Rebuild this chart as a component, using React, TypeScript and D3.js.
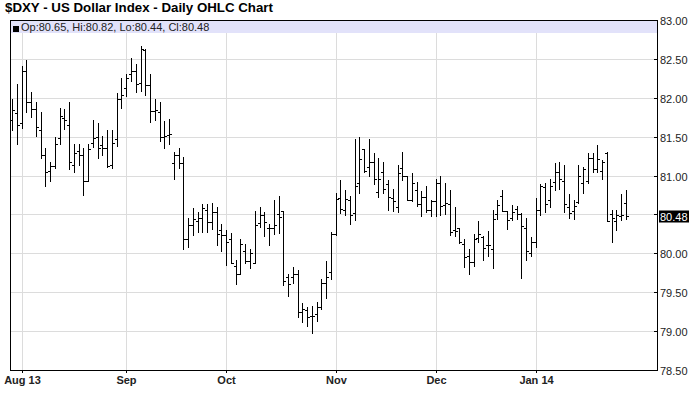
import { useEffect, useRef } from "react";
import * as d3 from "d3";

// daily OHLC, Jul 30 2013 .. Jan 29 2014 (weekdays, Dec 25 / Jan 1 closed)
const opens = [
  81.72, 81.81, 81.68, 82.35, 81.95, 81.86, 81.59, 81.27, 81.06, 81.12,
  81.48, 81.74, 81.65, 81.14, 81.32, 81.27, 80.93, 81.42, 81.5, 81.39,
  81.35, 81.13, 81.47, 81.99, 82.12, 82.31, 82.35, 82.19, 82.62, 82.16,
  81.83, 81.82, 81.49, 81.52, 81.16, 81.27, 81.16, 80.19, 80.36, 80.41,
  80.46, 80.56, 80.4, 80.53, 80.3, 80.24, 80.18, 79.84, 79.73, 80.03,
  79.9, 79.87, 80.39, 80.49, 80.32, 80.32, 80.5, 80.54, 79.7, 79.7,
  79.73, 79.25, 79.27, 79.19, 79.22, 79.31, 79.62, 79.76, 80.25, 80.71,
  80.56, 80.68, 80.52, 80.9, 81.34, 81.11, 81.17, 80.79, 81.05, 80.89,
  80.71, 80.59, 81.1, 81.0, 80.68, 80.81, 80.64, 80.73, 80.56, 80.67,
  80.9, 80.62, 80.64, 80.3, 80.32, 80.12, 79.97, 79.89, 80.2, 80.21,
  80.11, 80.06, 80.51, 80.74, 80.55, 80.45, 80.57, 80.51, 80.33, 80.01,
  80.15, 80.56, 80.85, 80.69, 80.92, 81.05, 80.93, 80.6, 80.54, 80.66,
  80.91, 80.93, 81.22, 81.09, 81.06, 81.29, 80.51, 80.41, 80.48, 80.65,
];
const highs = [
  81.98, 82.18, 82.41, 82.49, 82.08, 81.95, 81.82, 81.36, 81.18, 81.5,
  81.87, 81.86, 81.95, 81.41, 81.41, 81.35, 81.41, 81.72, 81.68, 81.51,
  81.59, 81.59, 82.06, 82.26, 82.31, 82.51, 82.43, 82.67, 82.63, 82.31,
  81.98, 81.94, 81.7, 81.73, 81.3, 81.36, 81.24, 80.46, 80.58, 80.53,
  80.63, 80.63, 80.65, 80.6, 80.38, 80.3, 80.26, 79.91, 80.18, 80.12,
  80.06, 80.55, 80.59, 80.53, 80.38, 80.68, 80.74, 80.55, 79.74, 79.82,
  79.79, 79.36, 79.31, 79.32, 79.38, 79.67, 79.9, 80.27, 80.77, 80.94,
  80.81, 80.74, 81.47, 81.49, 81.34, 81.47, 81.29, 81.22, 81.17, 80.94,
  80.83, 81.13, 81.3, 81.0, 81.03, 80.92, 80.8, 80.87, 80.69, 80.96,
  81.0, 80.91, 80.82, 80.6, 80.33, 80.18, 80.06, 80.25, 80.42, 80.22,
  80.29, 80.56, 80.68, 80.82, 80.55, 80.62, 80.61, 80.52, 80.46, 80.21,
  80.71, 80.89, 80.91, 80.95, 81.16, 81.18, 81.14, 80.76, 80.69, 81.13,
  81.11, 81.29, 81.29, 81.39, 81.2, 81.3, 80.56, 80.56, 80.76, 80.82,
];
const lows = [
  81.59, 81.41, 81.61, 81.82, 81.75, 81.51, 81.23, 80.87, 80.93, 81.1,
  81.41, 81.6, 81.08, 81.05, 81.13, 80.75, 80.93, 81.37, 81.23, 81.26,
  81.11, 81.1, 81.38, 81.87, 82.02, 82.21, 82.07, 82.09, 82.04, 81.69,
  81.71, 81.44, 81.35, 81.41, 80.95, 81.1, 80.06, 80.08, 80.23, 80.28,
  80.28, 80.28, 80.31, 80.11, 80.03, 79.85, 79.88, 79.6, 79.73, 79.88,
  79.81, 79.87, 80.34, 80.22, 80.11, 80.25, 80.26, 79.59, 79.45, 79.62,
  79.18, 79.12, 79.07, 78.98, 79.13, 79.28, 79.43, 79.67, 80.24, 80.52,
  80.49, 80.38, 80.43, 80.78, 81.05, 81.0, 80.89, 80.72, 80.77, 80.56,
  80.54, 80.53, 80.94, 80.68, 80.67, 80.61, 80.48, 80.53, 80.48, 80.48,
  80.49, 80.5, 80.23, 80.22, 80.13, 79.83, 79.74, 79.84, 80.14, 79.91,
  79.97, 79.81, 80.44, 80.54, 80.31, 80.43, 80.44, 79.68, 79.91, 79.96,
  80.08, 80.49, 80.53, 80.59, 80.82, 80.83, 80.53, 80.46, 80.44, 80.65,
  80.78, 80.91, 81.04, 81.05, 80.96, 80.41, 80.14, 80.3, 80.43, 80.44,
];
const closes = [
  81.84, 81.65, 82.35, 81.94, 81.86, 81.63, 81.27, 81.04, 81.12, 81.41,
  81.76, 81.71, 81.18, 81.29, 81.26, 80.93, 81.34, 81.48, 81.36, 81.35,
  81.12, 81.42, 81.99, 82.04, 82.25, 82.35, 82.18, 82.63, 82.16, 81.83,
  81.84, 81.5, 81.51, 81.53, 81.27, 81.16, 80.19, 80.37, 80.44, 80.46,
  80.58, 80.4, 80.53, 80.25, 80.23, 80.15, 79.88, 79.73, 80.12, 79.9,
  80.0, 80.36, 80.49, 80.4, 80.32, 80.36, 80.47, 79.65, 79.6, 79.73,
  79.24, 79.29, 79.18, 79.2, 79.31, 79.62, 79.7, 80.25, 80.7, 80.57,
  80.7, 80.49, 80.86, 81.21, 81.06, 81.17, 80.95, 80.96, 80.83, 80.73,
  80.67, 81.03, 81.0, 80.68, 80.91, 80.64, 80.73, 80.56, 80.67, 80.91,
  80.61, 80.65, 80.28, 80.29, 80.14, 79.95, 79.89, 80.18, 80.25, 80.07,
  80.11, 80.44, 80.62, 80.54, 80.43, 80.53, 80.5, 80.35, 80.03, 80.15,
  80.56, 80.86, 80.64, 80.86, 81.05, 80.95, 80.64, 80.52, 80.61, 80.99,
  81.08, 81.22, 81.09, 81.21, 81.17, 80.41, 80.46, 80.49, 80.49, 80.48,
];

const yTicks = [78.5, 79.0, 79.5, 80.0, 80.5, 81.0, 81.5, 82.0, 82.5, 83.0];
const monthLabels = ["Aug 13", "Sep", "Oct", "Nov", "Dec", "Jan 14"];
const closedDays = ["2013-12-25", "2014-01-01"];

const fmt = d3.timeFormat("%Y-%m-%d");
const dates = d3.timeDay
  .range(new Date(2013, 6, 30), new Date(2014, 0, 30))
  .filter((d) => d.getDay() !== 0 && d.getDay() !== 6 && !closedDays.includes(fmt(d)));

export default function App() {
  const ref = useRef<SVGSVGElement>(null);

  useEffect(() => {
    if (!ref.current) return;
    const svg = d3.select(ref.current);
    svg.selectAll("*").remove();

    const width = 700;
    const height = 411;
    const left = 10, right = 657, top = 20, bottom = 370;
    const font = "'Liberation Sans', Arial, sans-serif";

    const n = opens.length;
    const last = n - 1;
    const x = d3.scaleLinear().domain([0, n - 1]).range([left + 2, left + 616]);
    const y = d3.scaleLinear().domain([78.5, 83]).range([bottom, top]);
    const px = (i: number) => Math.round(x(i)) + 0.5;
    const py = (v: number) => Math.round(y(v)) + 0.5;

    svg.append("rect").attr("width", width).attr("height", height).attr("fill", "#fff");

    // title
    svg
      .append("text")
      .attr("x", 5)
      .attr("y", 12)
      .attr("font-family", font)
      .attr("font-size", "13.3px")
      .attr("font-weight", "bold")
      .attr("fill", "#000")
      .text("$DXY - US Dollar Index - Daily OHLC Chart");

    // month starts
    const monthIdx: number[] = [];
    dates.forEach((d, i) => {
      if (i === 0) return;
      if (d.getMonth() !== dates[i - 1].getMonth()) monthIdx.push(i);
    });

    // grid
    svg
      .append("g")
      .selectAll("line")
      .data(yTicks)
      .join("line")
      .attr("x1", left)
      .attr("x2", right)
      .attr("y1", (d) => py(d))
      .attr("y2", (d) => py(d))
      .attr("stroke", "#dcdcdc");
    svg
      .append("g")
      .selectAll("line")
      .data(monthIdx)
      .join("line")
      .attr("x1", (d) => px(d))
      .attr("x2", (d) => px(d))
      .attr("y1", top)
      .attr("y2", bottom)
      .attr("stroke", "#dcdcdc");

    // legend band
    svg
      .append("rect")
      .attr("x", left + 1)
      .attr("y", top + 1)
      .attr("width", right - left - 1)
      .attr("height", 12)
      .attr("fill", "#e2e2fa");
    svg
      .append("rect")
      .attr("x", 13)
      .attr("y", 26)
      .attr("width", 6)
      .attr("height", 6)
      .attr("fill", "#000");
    svg
      .append("text")
      .attr("x", 21)
      .attr("y", 31)
      .attr("font-family", font)
      .attr("font-size", "11px")
      .attr("fill", "#222")
      .text(
        `Op:${opens[last].toFixed(2)}, Hi:${highs[last].toFixed(2)}, Lo:${lows[last].toFixed(2)}, Cl:${closes[last].toFixed(2)}`
      );

    // OHLC bars
    const bars = svg.append("g").attr("stroke", "#000").attr("stroke-width", 1);
    d3.range(n).forEach((i) => {
      const cx = px(i);
      bars
        .append("line")
        .attr("x1", cx)
        .attr("x2", cx)
        .attr("y1", Math.round(y(highs[i])))
        .attr("y2", Math.round(y(lows[i])) + 1);
      bars
        .append("line")
        .attr("x1", cx - 2.5)
        .attr("x2", cx - 0.5)
        .attr("y1", py(opens[i]))
        .attr("y2", py(opens[i]));
      bars
        .append("line")
        .attr("x1", cx + 0.5)
        .attr("x2", cx + 2.5)
        .attr("y1", py(closes[i]))
        .attr("y2", py(closes[i]));
    });

    // frame
    svg
      .append("rect")
      .attr("x", left + 0.5)
      .attr("y", top + 0.5)
      .attr("width", right - left)
      .attr("height", bottom - top)
      .attr("fill", "none")
      .attr("stroke", "#000");

    // right axis (labels under the last-close box are hidden)
    const lc = py(closes[last]);
    const yAxis = svg.append("g");
    yAxis
      .selectAll("line")
      .data(yTicks)
      .join("line")
      .attr("x1", right - 3)
      .attr("x2", right + 0.5)
      .attr("y1", (d) => py(d))
      .attr("y2", (d) => py(d))
      .attr("stroke", "#000");
    yAxis
      .selectAll("text")
      .data(yTicks.filter((d) => Math.abs(py(d) - lc) > 12))
      .join("text")
      .attr("x", right + 3)
      .attr("y", (d) => py(d) + 4)
      .attr("font-family", font)
      .attr("font-size", "11px")
      .attr("fill", "#222")
      .text((d) => d.toFixed(2));

    // last close marker
    svg
      .append("rect")
      .attr("x", right + 2)
      .attr("y", lc - 6)
      .attr("width", 30)
      .attr("height", 12)
      .attr("fill", "#000");
    svg
      .append("text")
      .attr("x", right + 3)
      .attr("y", lc + 4)
      .attr("font-family", font)
      .attr("font-size", "11px")
      .attr("fill", "#fff")
      .text(closes[last].toFixed(2));

    // bottom axis
    const xAxis = svg.append("g");
    xAxis
      .selectAll("line")
      .data(monthIdx)
      .join("line")
      .attr("x1", (d) => px(d))
      .attr("x2", (d) => px(d))
      .attr("y1", bottom)
      .attr("y2", bottom + 3)
      .attr("stroke", "#000");
    xAxis
      .selectAll("text")
      .data(monthIdx)
      .join("text")
      .attr("x", (d) => px(d))
      .attr("y", bottom + 14)
      .attr("text-anchor", "middle")
      .attr("font-family", font)
      .attr("font-size", "11px")
      .attr("font-weight", "bold")
      .attr("fill", "#222")
      .text((_, i) => monthLabels[i]);
  }, []);

  return (
    <svg
      ref={ref}
      width={700}
      height={411}
      style={{ position: "absolute", left: 0, top: 0 }}
    />
  );
}
